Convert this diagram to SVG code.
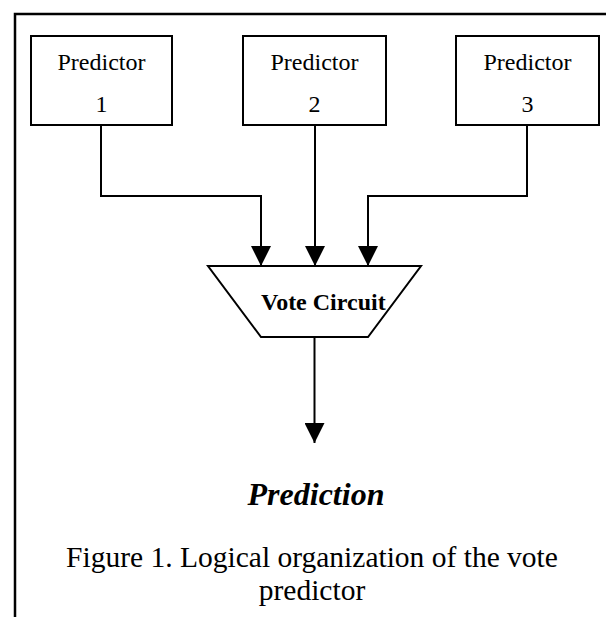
<svg xmlns="http://www.w3.org/2000/svg" width="606" height="617" viewBox="0 0 606 617">
<defs>
<style>
.frame{fill:none;stroke:#000;stroke-width:2.5}
.box{fill:#fff;stroke:#000;stroke-width:2}
.wire{fill:none;stroke:#000;stroke-width:2}
.lbl{font-family:"Liberation Serif","Times New Roman",serif;font-size:24px;text-anchor:middle;fill:#000}
.vote{font-family:"Liberation Serif","Times New Roman",serif;font-size:24px;font-weight:bold;fill:#000}
.pred{font-family:"Liberation Serif","Times New Roman",serif;font-size:32px;font-weight:bold;font-style:italic;text-anchor:middle;fill:#000}
.cap{font-family:"Liberation Serif","Times New Roman",serif;font-size:29.5px;text-anchor:middle;fill:#000}
</style>
<marker id="arr" markerWidth="20" markerHeight="20" refX="20" refY="10" orient="auto" markerUnits="userSpaceOnUse">
<path d="M0,0 L20,10 L0,20 Z" fill="#000"/>
</marker>
</defs>
<rect width="606" height="617" fill="#fff"/>
<path class="frame" d="M15,617 V14 H606"/>
<g id="connectors">
<path class="wire" d="M101,125 V196 H261 V266" marker-end="url(#arr)"/>
<path class="wire" d="M315,125 V266" marker-end="url(#arr)"/>
<path class="wire" d="M527,125 V196 H368 V266" marker-end="url(#arr)"/>
<path class="wire" d="M314.5,337 V443" marker-end="url(#arr)"/>
</g>
<g id="predictor1">
<rect class="box" x="31" y="36" width="141" height="89"/>
<text class="lbl" x="101.5" y="70">Predictor</text>
<text class="lbl" x="101.5" y="112">1</text>
</g>
<g id="predictor2">
<rect class="box" x="243" y="36" width="143" height="89"/>
<text class="lbl" x="314.5" y="70">Predictor</text>
<text class="lbl" x="314.5" y="112">2</text>
</g>
<g id="predictor3">
<rect class="box" x="456" y="36" width="143" height="89"/>
<text class="lbl" x="527.5" y="70">Predictor</text>
<text class="lbl" x="527.5" y="112">3</text>
</g>
<g id="vote-circuit">
<path class="box" d="M208,266 H421 L368,337 H261 Z"/>
<text class="vote" x="261" y="310">Vote Circuit</text>
</g>
<g id="prediction">
<text class="pred" x="316" y="505">Prediction</text>
</g>
<g id="caption">
<text class="cap" x="312" y="567">Figure 1. Logical organization of the vote</text>
<text class="cap" x="312" y="600">predictor</text>
</g>
</svg>
